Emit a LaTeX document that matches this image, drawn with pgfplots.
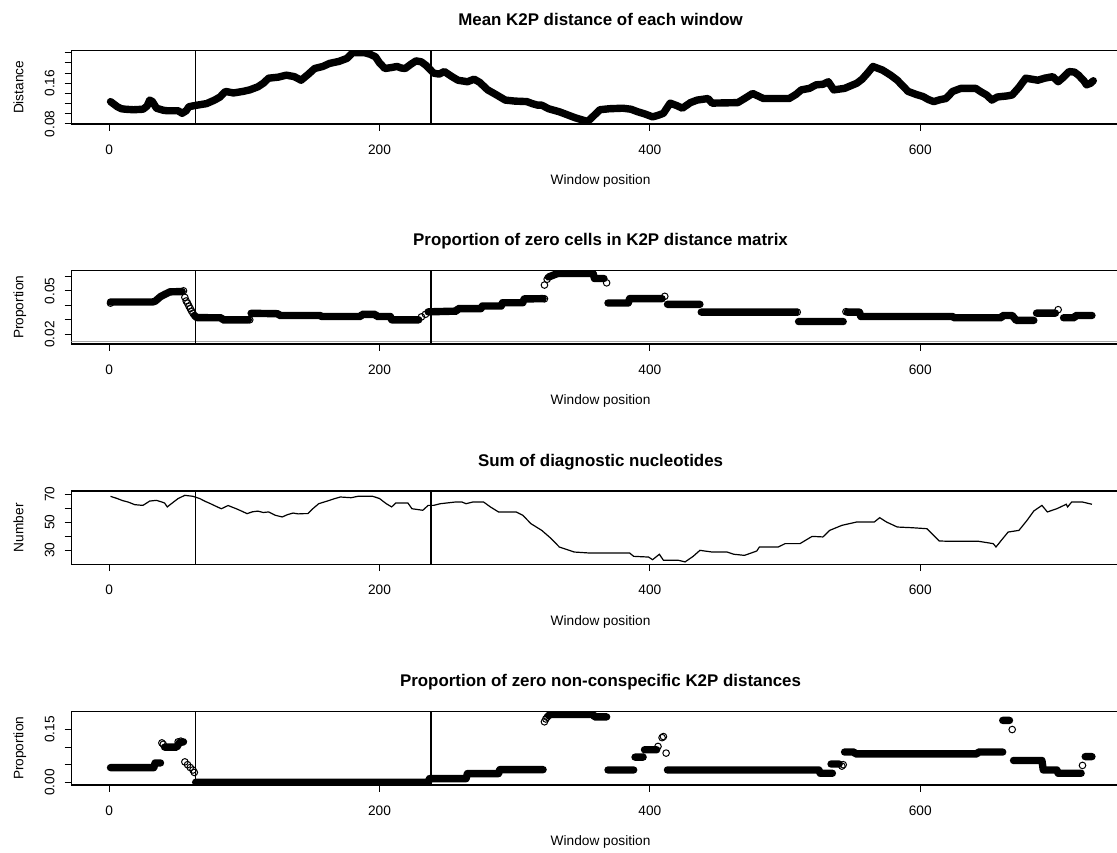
\documentclass[border=0pt]{standalone}
\usepackage{fontspec}
\setmainfont{Liberation Sans}
\usepackage{pgfplots}
\pgfplotsset{compat=1.18}
\newcommand\basefont{\fontsize{6.85}{8.2}\selectfont}
\pgfplotsset{
 panel/.style={
  scale only axis, width=529.25pt, height=36.65pt,
  xmin=-28, xmax=755,
  xtick={0,200,400,600}, xticklabels={0,200,400,600},
  xtick pos=bottom, ytick pos=left,
  scaled ticks=false,
  tick align=outside,
  major tick length=3.35pt,
  tick style={black, line width=0.5pt},
  axis line style={line width=0.6pt},
  xticklabel style={anchor=north, inner sep=0pt, font=\basefont},
  yticklabel style={rotate=90, anchor=south, inner sep=0pt, font=\basefont},
  xticklabel shift=6.85pt, yticklabel shift=4.8pt,
  xlabel={Window position},
  xlabel style={at={(axis description cs:0.5,-0.832)}, anchor=base, font=\basefont, inner sep=0pt},
  ylabel style={at={(axis description cs:-0.0453,0.5)}, anchor=base, font=\basefont, inner sep=0pt},
  every axis title/.style={at={(axis description cs:0.5,1.337)}, anchor=base, font=\bfseries\fontsize{8.45}{10}\selectfont, inner sep=0pt},
  unbounded coords=jump,
 },
 band/.style={black, line width=3.7pt, line cap=round, line join=round, no markers},
 pts/.style={black, only marks, mark=o, mark size=1.65pt, mark options={line width=0.5pt}},
 rect/.style={black, line width=0.65pt, no markers},
}
\begin{document}
\begin{tikzpicture}
% ---------------- Panel 1 ----------------
\begin{axis}[panel, at={(35.65pt,364pt)}, anchor=south west,
  title={Mean K2P distance of each window}, ylabel={Distance},
  ymin=0.08, ymax=0.224,
  ytick={0.08,0.10,0.12,0.14,0.16,0.18,0.20,0.22},
  yticklabels={0.08,{},{},{},0.16,{},{},{}}]
\addplot[band] coordinates {
(1,0.124)(4,0.118)(6,0.114)(9,0.110)(12,0.109)(18,0.108)(25,0.109)(28,0.115)(30,0.127)(32,0.124)(35,0.111)(40,0.107)(43,0.106)(51,0.106)(54,0.101)(57,0.106)(59,0.114)(65,0.117)(72,0.120)(78,0.127)(82,0.133)(86,0.144)(92,0.141)(99,0.144)(104,0.147)(110,0.153)(114,0.160)(118,0.170)(125,0.172)(131,0.176)(137,0.173)(142,0.166)(147,0.177)(152,0.189)(158,0.193)(163,0.199)(170,0.203)(176,0.209)(180,0.220)(189,0.220)(193,0.217)(197,0.212)(200,0.200)(204,0.189)(209,0.191)(213,0.193)(216,0.190)(219,0.189)(223,0.197)(227,0.204)(231,0.202)(234,0.196)(240,0.180)(244,0.178)(248,0.183)(253,0.174)(258,0.166)(265,0.163)(270,0.168)(274,0.162)(280,0.147)(286,0.138)(293,0.127)(300,0.125)(309,0.124)(313,0.120)(317,0.117)(320,0.117)(325,0.110)(333,0.104)(340,0.097)(345,0.092)(350,0.088)(354,0.085)(358,0.095)(363,0.108)(370,0.110)(380,0.111)(386,0.109)(391,0.104)(396,0.100)(402,0.094)(406,0.097)(410,0.101)(415,0.121)(420,0.116)(424,0.111)(430,0.122)(435,0.127)(443,0.130)(446,0.121)(465,0.122)(470,0.130)(476,0.140)(480,0.135)(484,0.130)(503,0.130)(508,0.138)(512,0.147)(518,0.150)(523,0.157)(528,0.158)(532,0.163)(536,0.147)(544,0.150)(553,0.160)(557,0.168)(561,0.180)(565,0.193)(572,0.186)(578,0.176)(583,0.166)(587,0.155)(591,0.144)(597,0.138)(602,0.134)(606,0.128)(610,0.124)(615,0.128)(619,0.130)(624,0.144)(630,0.150)(641,0.150)(645,0.143)(649,0.137)(653,0.127)(657,0.133)(660,0.134)(664,0.135)(668,0.137)(673,0.152)(678,0.170)(687,0.166)(692,0.170)(698,0.173)(702,0.163)(706,0.172)(710,0.183)(714,0.182)(717,0.176)(721,0.165)(723,0.157)(726,0.160)(728,0.165)
};
\addplot[rect] coordinates {(64,0) (64,1)};
\addplot[rect] coordinates {(238,0) (238,1)};
\end{axis}
% ---------------- Panel 2 ----------------
\begin{axis}[panel, at={(35.65pt,254pt)}, anchor=south west,
  title={Proportion of zero cells in K2P distance matrix}, ylabel={Proportion},
  ymin=0.0133, ymax=0.0639,
  ytick={0.02,0.03,0.04,0.05,0.06},
  yticklabels={0.02,{},{},0.05,{}}]
\addplot[gray!70, line width=0.5pt, no markers] coordinates {(-28,0.0148) (755,0.0148)};
\addplot[band] coordinates {
(1,0.0423)(32,0.0423)(34,0.0428)(38,0.046)(41,0.0475)(45,0.0493)(54,0.0495)
(54.5,nan)
(63,0.0330)(65,0.0315)(83,0.0314)(84,0.0300)(103,0.0300)
(104,nan)
(105,0.0345)(125,0.0342)(126,0.0330)(156,0.0330)(157,0.0323)(186,0.0323)(187,0.0337)(197,0.0337)(198,0.0323)(208,0.0323)(209,0.0300)(229,0.0300)
(230,nan)
(236,0.0355)(257,0.0360)(258,0.0377)(275,0.0377)(276,0.0395)(290,0.0395)(291,0.0418)(306,0.0418)(307,0.0444)(321,0.0446)
(322,nan)
(325,0.0595)(329,0.061)(332,0.062)(358,0.062)(359,0.0585)(366,0.0585)
(367,nan)
(369,0.0416)(384,0.0416)(385,0.0446)(409,0.0446)
(410,nan)
(413,0.0407)(437,0.0407)
(437.5,nan)
(438,0.0353)(508,0.0353)
(509,nan)
(510,0.0288)(543,0.0288)
(544,nan)
(546,0.0353)(555,0.0353)(556,0.0323)(624,0.0323)(625,0.0314)(660,0.0314)(661,0.0330)(668,0.0330)(671,0.0296)(684,0.0296)
(685,nan)
(686,0.0346)(700,0.0346)
(703,nan)
(706,0.0314)(714,0.0314)(715,0.0330)(727,0.0330)
};
\addplot[pts] coordinates {(1,0.0415)(55,0.050)(56,0.0455)(57,0.043)(58,0.0415)(59,0.0395)(60,0.0378)(61,0.036)(62,0.0345)(104,0.0300)(231,0.0320)(234,0.0338)(322,0.0445)(322,0.054)(324,0.058)(368,0.0555)(411,0.0462)(509,0.0353)(545,0.0356)(702,0.037)};
\addplot[rect] coordinates {(64,0) (64,1)};
\addplot[rect] coordinates {(238,0) (238,1)};
\end{axis}
% ---------------- Panel 3 ----------------
\begin{axis}[panel, at={(35.65pt,143.85pt)}, anchor=south west,
  title={Sum of diagnostic nucleotides}, ylabel={Number},
  ymin=19.9, ymax=72.4,
  ytick={30,40,50,60,70},
  yticklabels={30,{},50,{},70}]
\addplot[black, line width=0.6pt, no markers] coordinates {
(1,68.6)(6,67)(10,65.5)(14,64.5)(19,62.6)(25,62.1)(30,65.2)(35,65.7)(39,64.5)(41,63.8)(43,61)(46,63.3)(51,67)(56,69.3)(62,68.6)(67,67)(71,65)(75,63.3)(80,61)(83,59.7)(88,62)(94,59.7)(98,58)(102,56.2)(106,57.5)(110,58)(114,57)(118,57.4)(123,55)(128,53.8)(132,55.5)(136,56.6)(140,56)(144,56.2)(147,56.2)(151,60)(155,63.3)(159,64.5)(163,65.7)(167,67)(171,68.1)(179,67.6)(184,68.6)(195,68.6)(200,67)(205,63.3)(209,61)(212,63.8)(221,63.8)(224,59.7)(232,58.6)(236,62.1)(240,62.1)(245,63.3)(256,64.5)(261,64.5)(264,63.3)(269,64.5)(277,64.5)(282,61)(288,57.4)(301,57.4)(306,55)(312,49)(320,44.2)(327,38.3)(333,32.3)(340,30)(344,28.7)(355,28)(363,28)(385,28)(388,25.6)(399,25.1)(402,23.2)(407,27.1)(410,22.8)(421,22.8)(426,21.6)(432,25.6)(437,29.9)(446,28.7)(457,28.7)(462,27.1)(470,26.3)(479,29.4)(481,32.3)(495,32.3)(500,34.7)(511,34.7)(520,39.9)(528,39.5)(533,44.2)(542,47.8)(553,50.2)(566,50.2)(570,53.3)(575,50.2)(583,46.6)(594,46.1)(605,45.4)(614,36.6)(621,36.4)(643,36.4)(654,34.7)(656,32.3)(660,37.1)(665,43)(673,44.2)(679,51.4)(684,58.1)(690,62.1)(694,57.4)(701,59.7)(708,62.9)(709,61)(712,64.5)(720,64.5)(727,62.9)
};
\addplot[rect] coordinates {(64,0) (64,100)};
\addplot[rect] coordinates {(238,0) (238,100)};
\end{axis}
% ---------------- Panel 4 ----------------
\begin{axis}[panel, at={(35.65pt,33.5pt)}, anchor=south west,
  title={Proportion of zero non-conspecific K2P distances}, ylabel={Proportion},
  ymin=-0.0077, ymax=0.2007,
  ytick={0,0.05,0.10,0.15},
  yticklabels={0.00,{},{},0.15}]
\addplot[band] coordinates {
(1,0.0417)(33,0.0417)(34,0.055)(38,0.055)
(39,nan)
(41,0.100)(50,0.100)(52,0.113)(55,0.115)
(56,nan)
(64,0)(236,0)(237,0.0104)(264,0.0104)(265,0.0247)(288,0.0247)(289,0.036)(321,0.036)
(322,nan)
(325,0.190)(327,0.193)(358,0.193)(359,0.186)(368,0.186)
(368.5,nan)
(369,0.035)(388,0.035)
(388.5,nan)
(389,0.0715)(395,0.0715)
(395.5,nan)
(396,0.0925)(405,0.0925)
(406,nan)
(413,0.035)(525,0.035)(526,0.0257)(535,0.0257)
(535.5,nan)
(534,0.052)(540,0.052)
(541,nan)
(544,0.086)(551,0.086)(552,0.081)(642,0.081)(643,0.086)(661,0.086)
(661.5,nan)
(661,0.176)(666,0.176)
(667,nan)
(669,0.062)(690,0.062)(691,0.035)(701,0.035)(702,0.0257)(719,0.0257)
(720,nan)
(722,0.073)(727,0.073)
};
\addplot[pts] coordinates {(39,0.112)(40,0.108)(51,0.115)(53,0.117)(56,0.058)(58,0.050)(60,0.042)(62,0.035)(63,0.028)(322,0.172)(323,0.180)(324,0.185)(406,0.102)(409,0.127)(410,0.130)(412,0.083)(542,0.046)(543,0.050)(668,0.150)(720,0.048)};
\addplot[rect] coordinates {(64,-1) (64,1)};
\addplot[rect] coordinates {(238,-1) (238,1)};
\end{axis}
\pgfresetboundingbox
\path[use as bounding box] (0,0) rectangle (558.5pt,426pt);
\end{tikzpicture}
\end{document}
